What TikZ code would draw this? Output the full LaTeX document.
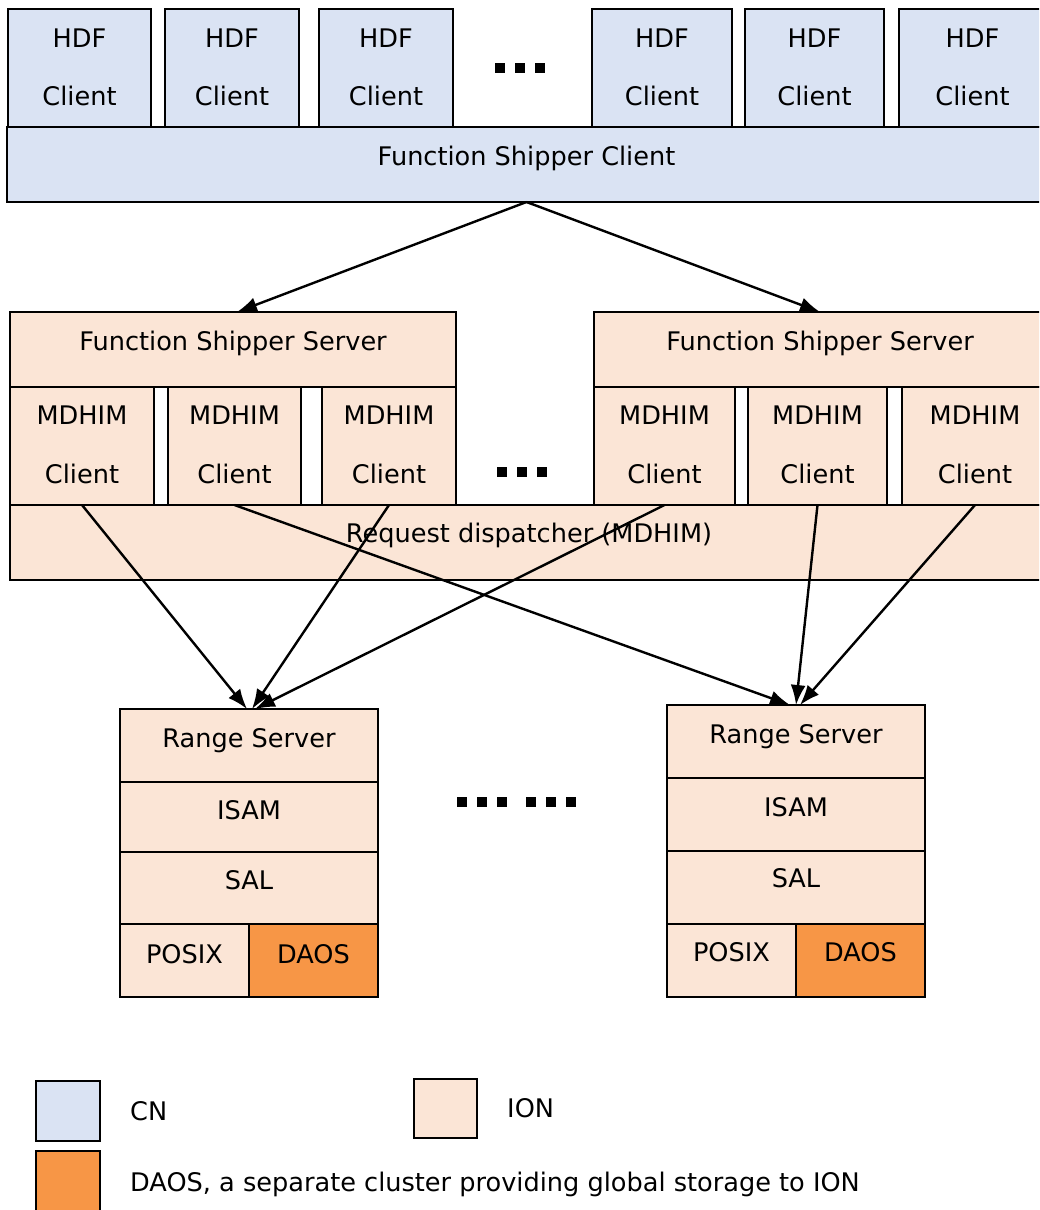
\documentclass[tikz,border=0pt]{standalone}
\usepackage{fontspec}
\setmainfont{DejaVu Sans}
\usetikzlibrary{arrows.meta}
\definecolor{cnblue}{HTML}{DAE3F3}
\definecolor{ionpeach}{HTML}{FBE5D6}
\definecolor{daosorange}{HTML}{F79646}
\begin{document}
\begin{tikzpicture}[x=1pt,y=-1pt,
  blk/.style={draw=black,line width=2.4pt,inner sep=0pt,outer sep=0pt,anchor=north west},
  cn/.style={blk,fill=cnblue},
  ion/.style={blk,fill=ionpeach},
  daos/.style={blk,fill=daosorange},
  txt/.style={inner sep=0pt,anchor=base,font=\fontsize{25.6}{30}\selectfont},
  ltxt/.style={inner sep=0pt,anchor=base west,font=\fontsize{25.6}{30}\selectfont},
  arr/.style={-{Latex[length=20pt,width=15pt]},line width=2.4pt},
  sq/.style={fill=black,inner sep=0pt,minimum size=10pt}
]
\clip (0,0) rectangle (1039,1210);
% ---------- CN: HDF clients and Function Shipper Client
\node[cn,minimum width=143,minimum height=118] (h1) at (8,9) {};
\node[cn,minimum width=134,minimum height=118] (h2) at (165,9) {};
\node[cn,minimum width=134,minimum height=118] (h3) at (319,9) {};
\node[cn,minimum width=140,minimum height=118] (h4) at (592,9) {};
\node[cn,minimum width=139,minimum height=118] (h5) at (745,9) {};
\node[cn,minimum width=147,minimum height=118] (h6) at (899,9) {};
\node[cn,minimum width=1039,minimum height=75] (fsc) at (7,127) {};
\foreach \n in {h1,h2,h3,h4,h5,h6}{
  \node[txt] at (\n.north |- 0,47) {HDF};
  \node[txt] at (\n.north |- 0,105) {Client};
}
\node[txt] at (fsc.north |- 0,165) {Function Shipper Client};
\node[sq] (d1) at (500,68) {};
\node[sq] (d2) at (520,68) {};
\node[sq] (d3) at (540,68) {};
% ---------- ION: Function shipper servers, MDHIM clients, dispatcher
\node[ion,minimum width=1038,minimum height=75] (rd) at (10,505) {};
\node[ion,minimum width=446,minimum height=75] (fssL) at (10,312) {};
\node[ion,minimum width=452,minimum height=75] (fssR) at (594,312) {};
\node[ion,minimum width=144,minimum height=118] (mL1) at (10,387) {};
\node[ion,minimum width=133,minimum height=118] (mL2) at (168,387) {};
\node[ion,minimum width=134,minimum height=118] (mL3) at (322,387) {};
\node[ion,minimum width=141,minimum height=118] (mR1) at (594,387) {};
\node[ion,minimum width=139,minimum height=118] (mR2) at (748,387) {};
\node[ion,minimum width=146,minimum height=118] (mR3) at (902,387) {};
\foreach \n in {mL1,mL2,mL3,mR1,mR2,mR3}{
  \node[txt] at (\n.north |- 0,424) {MDHIM};
  \node[txt] at (\n.north |- 0,483) {Client};
}
\node[txt] at (fssL.north |- 0,350) {Function Shipper Server};
\node[txt] at (fssR.north |- 0,350) {Function Shipper Server};
\node[txt] at (rd.north |- 0,542) {Request dispatcher (MDHIM)};
\node[sq] (d4) at (502,472) {};
\node[sq] (d5) at (522,472) {};
\node[sq] (d6) at (541.5,472) {};
% ---------- Range servers
\node[ion,minimum width=258,minimum height=73] (rsL1) at (120,709) {};
\node[ion,minimum width=258,minimum height=70] (rsL2) at (120,782) {};
\node[ion,minimum width=258,minimum height=72] (rsL3) at (120,852) {};
\node[ion,minimum width=129,minimum height=73] (rsL4) at (120,924) {};
\node[daos,minimum width=129,minimum height=73] (rsL5) at (249,924) {};
\node[txt] at (rsL1.north |- 0,747) {Range Server};
\node[txt] at (rsL2.north |- 0,819) {ISAM};
\node[txt] at (rsL3.north |- 0,889) {SAL};
\node[txt] at (rsL4.north |- 0,963) {POSIX};
\node[txt] at (rsL5.north |- 0,963) {DAOS};
\node[ion,minimum width=258,minimum height=73] (rsR1) at (667,705) {};
\node[ion,minimum width=258,minimum height=73] (rsR2) at (667,778) {};
\node[ion,minimum width=258,minimum height=73] (rsR3) at (667,851) {};
\node[ion,minimum width=129,minimum height=73] (rsR4) at (667,924) {};
\node[daos,minimum width=129,minimum height=73] (rsR5) at (796,924) {};
\node[txt] at (rsR1.north |- 0,743) {Range Server};
\node[txt] at (rsR2.north |- 0,816) {ISAM};
\node[txt] at (rsR3.north |- 0,887) {SAL};
\node[txt] at (rsR4.north |- 0,961) {POSIX};
\node[txt] at (rsR5.north |- 0,961) {DAOS};
\foreach \x [count=\i] in {462,482,502,531,551,571}{
  \node[sq] (e\i) at (\x,802) {};
}
% ---------- connectors
\draw[arr] (fsc.south) -- ([xshift=4pt]fssL.north);
\draw[arr] (fsc.south) -- (fssR.north);
\draw[arr] (mL1.south) -- ([xshift=-2pt]rsL1.north);
\draw[arr] (mL3.south) -- ([xshift=3pt]rsL1.north);
\draw[arr] (mR1.south) -- ([xshift=6pt]rsL1.north);
\draw[arr] (mL2.south) -- ([xshift=-6pt]rsR1.north);
\draw[arr] (mR2.south) -- (rsR1.north);
\draw[arr] (mR3.south) -- ([xshift=4pt]rsR1.north);
% ---------- legend
\node[cn,minimum width=64,minimum height=60] (lgcn) at (36,1081) {};
\node[ion,minimum width=63,minimum height=59] (lgion) at (414,1079) {};
\node[daos,minimum width=64,minimum height=62] (lgdaos) at (36,1151) {};
\node[ltxt] at (130,1120) {CN};
\node[ltxt] at (507,1117) {ION};
\node[ltxt] at (130,1191) {DAOS, a separate cluster providing global storage to ION};
\end{tikzpicture}
\end{document}
